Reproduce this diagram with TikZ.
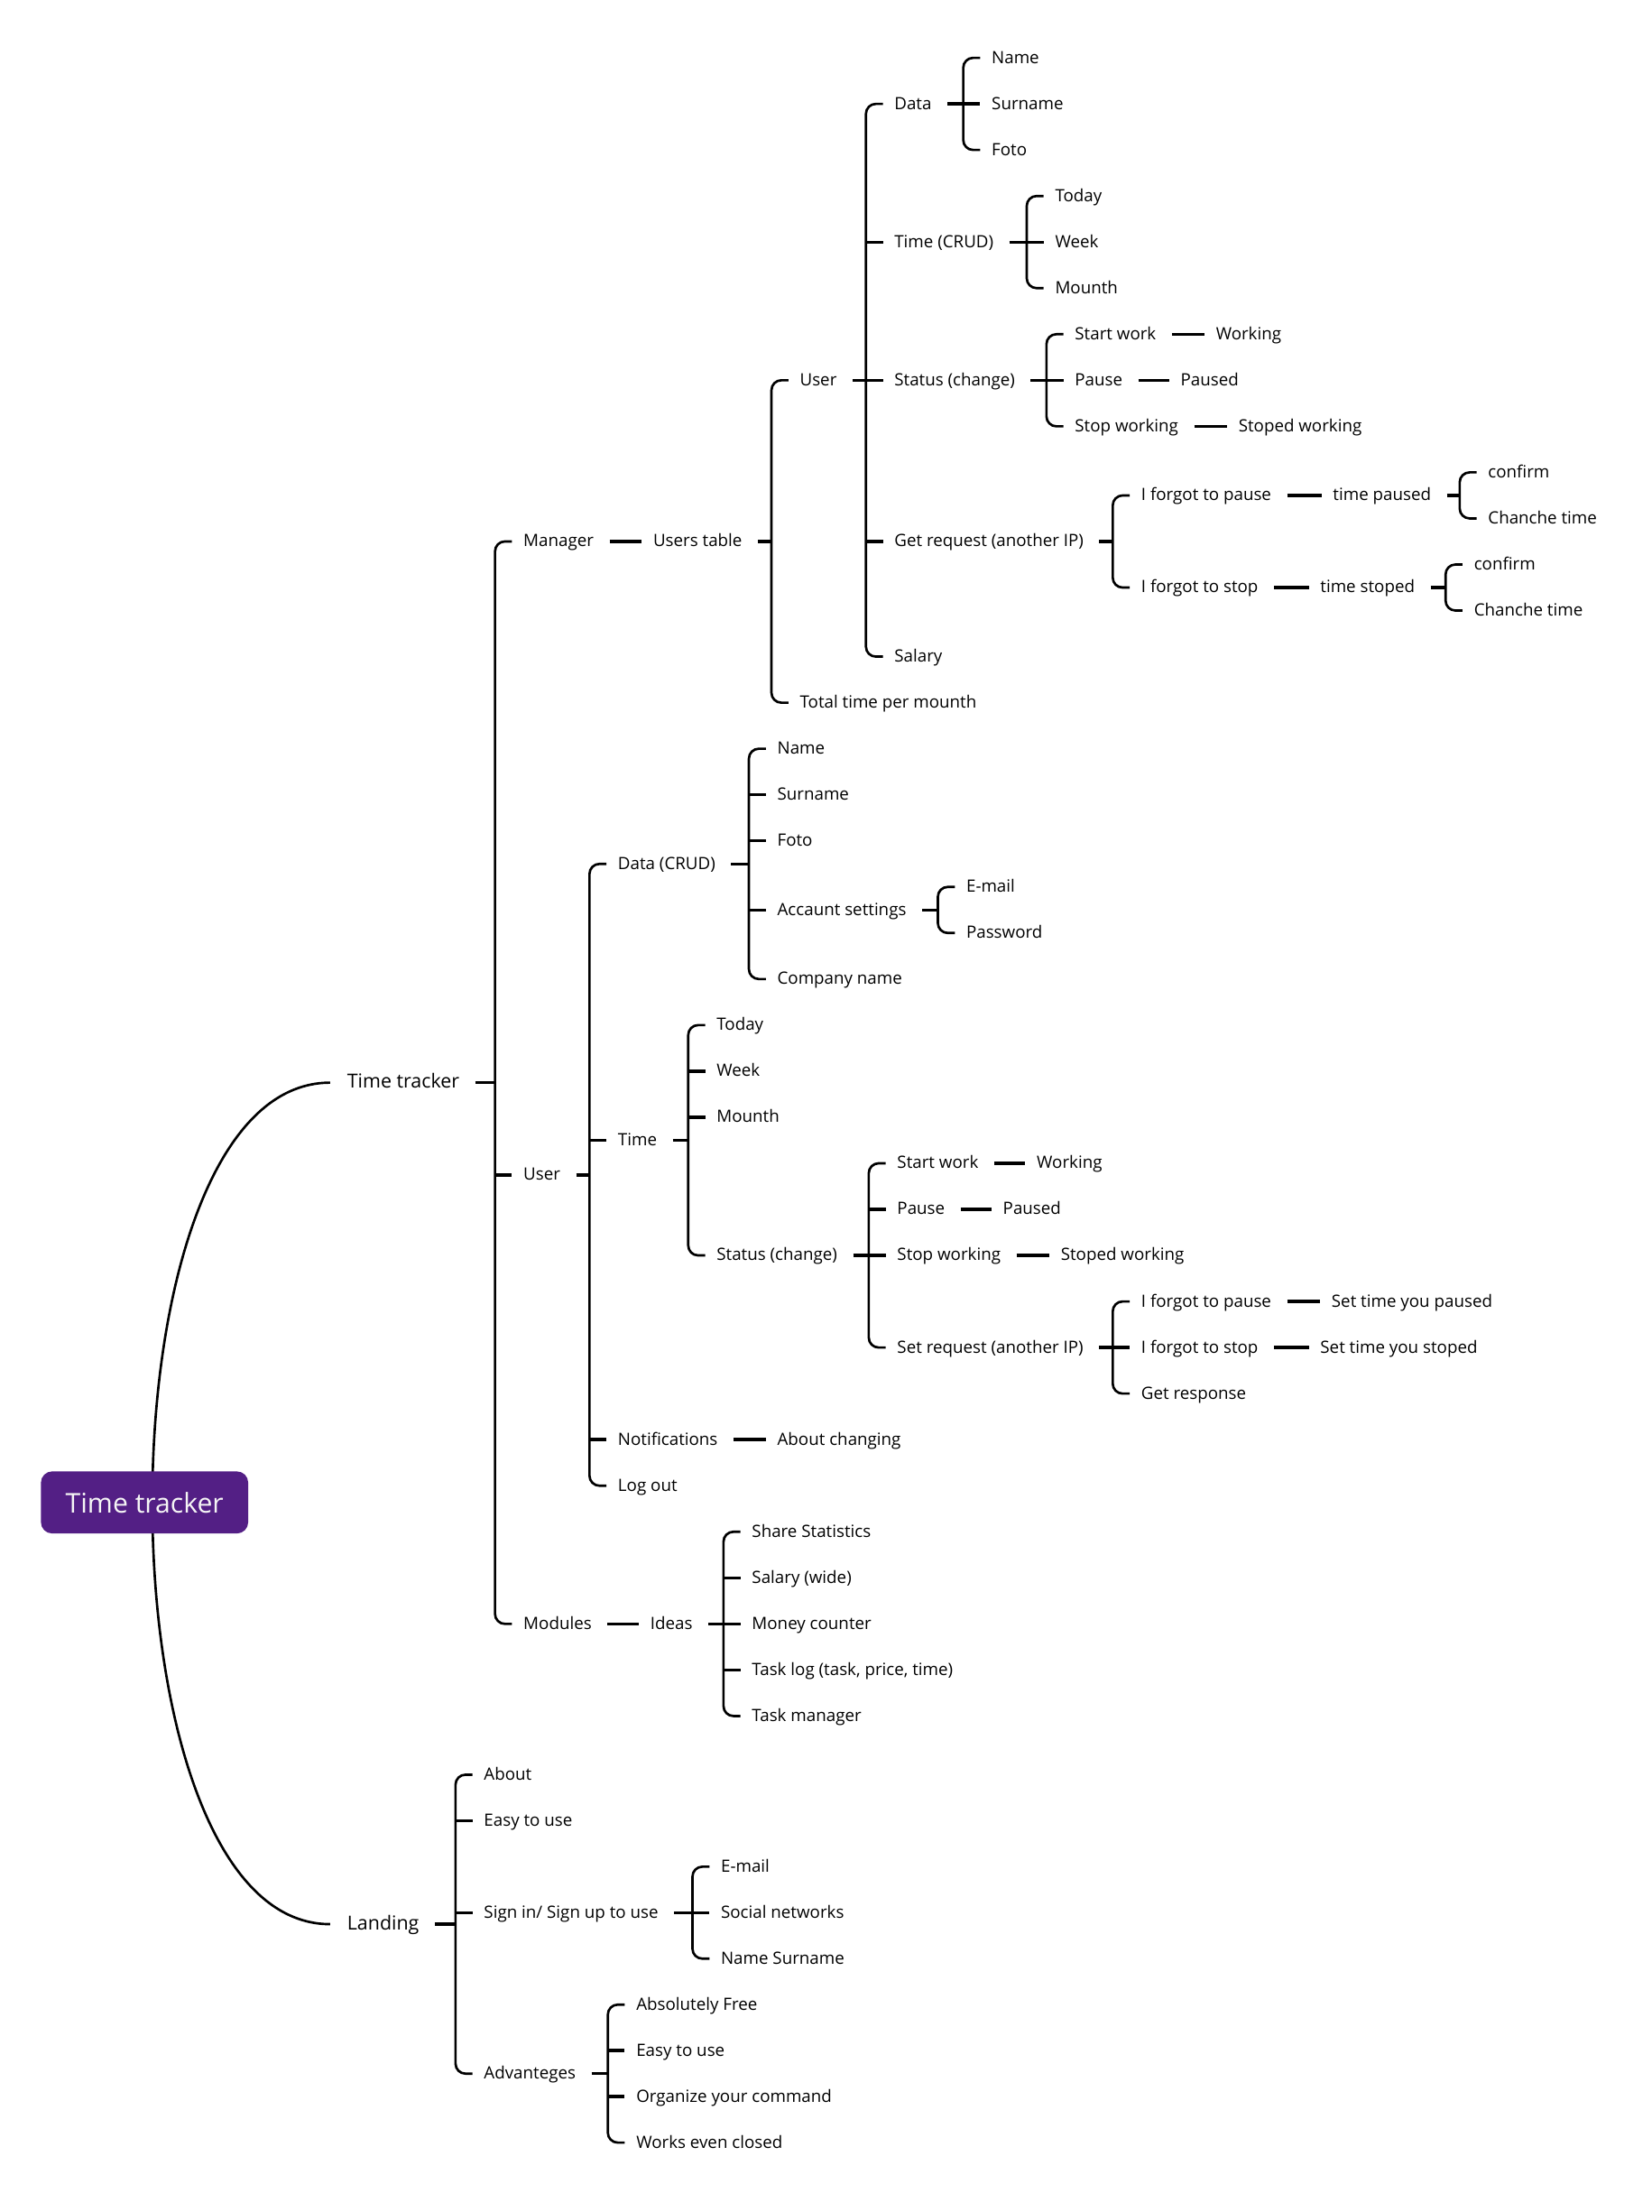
\documentclass[tikz,border=0pt]{standalone}
\usepackage{fontspec}
\setmainfont{Open Sans}
\usetikzlibrary{calc}
\definecolor{rootpurple}{RGB}{83,31,133}
\tikzset{
  lbl/.style={anchor=west, inner sep=0pt, text height=0.76em, text depth=0pt, font=\fontsize{12}{14}\selectfont},
  lvlone/.style={lbl, font=\fontsize{13.7}{15}\selectfont},
  rootbox/.style={fill=rootpurple, rounded corners=8pt, minimum width=147pt, minimum height=44pt, text=white!96!black, font=\fontsize{19.3}{21}\selectfont, inner sep=0pt},
  conn/.style={line width=1.7pt, black},
  stub/.style={line width=2.2pt, black},
}
\newcommand\grp[3]{%
 \draw[conn,rounded corners=7pt] ([xshift=-8pt]#2.west) -- ($(#2.west)+(-20,0)$) -- ($(#3.west)+(-20,0)$) -- ([xshift=-8pt]#3.west);
 \draw[stub] ([xshift=11pt]#1.east) -- ($(#1.east -| #2.west)+(-20,0)$);}
\newcommand\midc[1]{\draw[stub] ($(#1.west)+(-20,0)$) -- ([xshift=-8pt]#1.west);}
\newcommand\single[2]{\draw[stub] ([xshift=11pt]#1.east) -- ([xshift=-8pt]#2.west);}
\begin{document}
\begin{tikzpicture}[x=1pt,y=-1pt]
\useasboundingbox (0,0) rectangle (1171,1568);

\begin{scope}[yshift=-1pt]
% level 1
\node[lvlone] (tt) at (246,766.45) {Time tracker};
\node[lvlone] (land) at (246,1362.95) {Landing};

% level 2
\node[lbl] (man) at (371,382.8) {Manager};
\node[lbl] (usr) at (371,831.8) {User};
\node[lbl] (mod) at (371,1150.1) {Modules};

% manager
\node[lbl] (ut) at (463,382.8) {Users table};
\node[lbl] (um) at (567,268.55) {User};
\node[lbl] (tot) at (567,497.1) {Total time per mounth};

\node[lbl] (md) at (634,72.65) {Data};
\node[lbl] (mt) at (634,170.6) {Time (CRUD)};
\node[lbl] (ms) at (634,268.55) {Status (change)};
\node[lbl] (mg) at (634,382.8) {Get request (another IP)};
\node[lbl] (msal) at (634,464.45) {Salary};

\node[lbl] (mdn) at (703,40) {Name};
\node[lbl] (mds) at (703,72.65) {Surname};
\node[lbl] (mdf) at (703,105.3) {Foto};

\node[lbl] (mtt) at (748,137.95) {Today};
\node[lbl] (mtw) at (748,170.6) {Week};
\node[lbl] (mtm) at (748,203.25) {Mounth};

\node[lbl] (mss) at (762,235.9) {Start work};
\node[lbl] (msp) at (762,268.55) {Pause};
\node[lbl] (msx) at (762,301.2) {Stop working};
\node[lbl] (mssr) at (862,235.9) {Working};
\node[lbl] (mspr) at (837,268.55) {Paused};
\node[lbl] (msxr) at (878,301.2) {Stoped working};

\node[lbl] (mfp) at (809,350.2) {I forgot to pause};
\node[lbl] (mfs) at (809,415.5) {I forgot to stop};
\node[lbl] (mtp) at (945,350.2) {time paused};
\node[lbl] (mts) at (936,415.5) {time stoped};
\node[lbl] (mpc) at (1055,333.85) {confirm};
\node[lbl] (mpch) at (1055,366.5) {Chanche time};
\node[lbl] (msc) at (1045,399.15) {confirm};
\node[lbl] (msch) at (1045,431.8) {Chanche time};

% user
\node[lbl] (ud) at (438,611.4) {Data (CRUD)};
\node[lbl] (utm) at (438,807.3) {Time};
\node[lbl] (un) at (438,1019.5) {Notifications};
\node[lbl] (ul) at (438,1052.15) {Log out};
\node[lbl] (udn) at (551,529.75) {Name};
\node[lbl] (uds) at (551,562.4) {Surname};
\node[lbl] (udf) at (551,595.05) {Foto};
\node[lbl] (uda) at (551,644.0) {Accaunt settings};
\node[lbl] (udc) at (551,693) {Company name};
\node[lbl] (uae) at (685,627.7) {E-mail};
\node[lbl] (uap) at (685,660.35) {Password};
\node[lbl] (utt) at (508,725.65) {Today};
\node[lbl] (utw) at (508,758.3) {Week};
\node[lbl] (utmo) at (508,790.95) {Mounth};
\node[lbl] (uts) at (508,888.9) {Status (change)};
\node[lbl] (uss) at (636,823.6) {Start work};
\node[lbl] (usp) at (636,856.25) {Pause};
\node[lbl] (usx) at (636,888.9) {Stop working};
\node[lbl] (usrq) at (636,954.2) {Set request (another IP)};
\node[lbl] (ussr) at (735,823.6) {Working};
\node[lbl] (uspr) at (711,856.25) {Paused};
\node[lbl] (usxr) at (752,888.9) {Stoped working};
\node[lbl] (ufp) at (809,921.55) {I forgot to pause};
\node[lbl] (ufs) at (809,954.2) {I forgot to stop};
\node[lbl] (ugr) at (809,986.85) {Get response};
\node[lbl] (ufpr) at (944,921.55) {Set time you paused};
\node[lbl] (ufsr) at (936,954.2) {Set time you stoped};
\node[lbl] (una) at (551,1019.5) {About changing};

% modules
\node[lbl] (ideas) at (461,1150.1) {Ideas};
\node[lbl] (ia) at (533,1084.8) {Share Statistics};
\node[lbl] (ib) at (533,1117.45) {Salary (wide)};
\node[lbl] (ic) at (533,1150.1) {Money counter};
\node[lbl] (id) at (533,1182.75) {Task log (task, price, time)};
\node[lbl] (ie) at (533,1215.4) {Task manager};

% landing
\node[lbl] (la) at (343,1257) {About};
\node[lbl] (le) at (343,1289.6) {Easy to use};
\node[lbl] (ls) at (343,1354.8) {Sign in/ Sign up to use};
\node[lbl] (lv) at (343,1468.9) {Advanteges};
\node[lbl] (lse) at (511,1322.2) {E-mail};
\node[lbl] (lss) at (511,1354.8) {Social networks};
\node[lbl] (lsn) at (511,1387.4) {Name Surname};
\node[lbl] (lva) at (451,1420) {Absolutely Free};
\node[lbl] (lvb) at (451,1452.6) {Easy to use};
\node[lbl] (lvc) at (451,1485.2) {Organize your command};
\node[lbl] (lvd) at (451,1517.8) {Works even closed};
\end{scope}

% connectors
\grp{tt}{man}{mod} \midc{usr}
\single{man}{ut}
\grp{ut}{um}{tot}
\grp{um}{md}{msal} \midc{mt} \midc{ms} \midc{mg}
\grp{md}{mdn}{mdf} \midc{mds}
\grp{mt}{mtt}{mtm} \midc{mtw}
\grp{ms}{mss}{msx} \midc{msp}
\single{mss}{mssr} \single{msp}{mspr} \single{msx}{msxr}
\grp{mg}{mfp}{mfs}
\single{mfp}{mtp} \single{mfs}{mts}
\grp{mtp}{mpc}{mpch}
\grp{mts}{msc}{msch}

\grp{usr}{ud}{ul} \midc{utm} \midc{un}
\grp{ud}{udn}{udc} \midc{uds} \midc{udf} \midc{uda}
\grp{uda}{uae}{uap}
\grp{utm}{utt}{uts} \midc{utw} \midc{utmo}
\grp{uts}{uss}{usrq} \midc{usp} \midc{usx}
\single{uss}{ussr} \single{usp}{uspr} \single{usx}{usxr}
\grp{usrq}{ufp}{ugr} \midc{ufs}
\single{ufp}{ufpr} \single{ufs}{ufsr}
\single{un}{una}

\single{mod}{ideas}
\grp{ideas}{ia}{ie} \midc{ib} \midc{ic} \midc{id}

\grp{land}{la}{lv} \midc{le} \midc{ls}
\grp{ls}{lse}{lsn} \midc{lss}
\grp{lv}{lva}{lvd} \midc{lvb} \midc{lvc}

% root and curves
\coordinate (rc) at (108,1065);
\coordinate (tte) at ($(tt.west)+(-12,0)$);
\coordinate (lde) at ($(land.west)+(-12,0)$);
\draw[conn] (rc) .. controls ($(rc)!0.5!(rc |- tte)$) and ($(tte)!0.667!(rc |- tte)$) .. (tte);
\draw[conn] (rc) .. controls ($(rc)!0.5!(rc |- lde)$) and ($(lde)!0.667!(rc |- lde)$) .. (lde);
\node[rootbox] (root) at (102.5,1065) {Time tracker};
\end{tikzpicture}
\end{document}
